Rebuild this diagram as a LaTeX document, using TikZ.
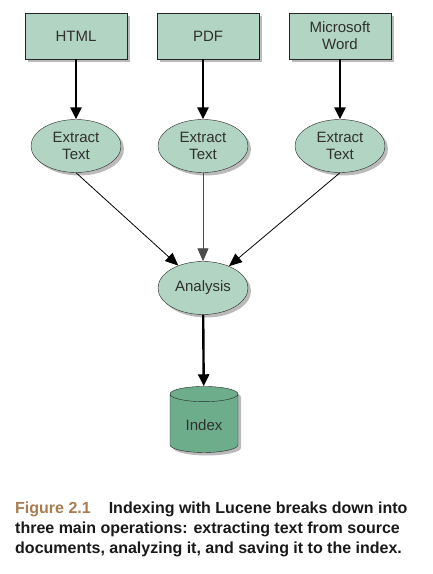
\documentclass[tikz,border=0pt]{standalone}
\usepackage{fontspec}
\setmainfont{Liberation Sans}
\usetikzlibrary{shapes.geometric,shadows,arrows.meta}
\definecolor{boxgreen}{HTML}{B2D4C2}
\definecolor{idxgreen}{HTML}{6DAD8C}
\definecolor{figbrown}{HTML}{A87C4F}
\definecolor{txtgray}{HTML}{303030}
\tikzset{
  shade/.style={drop shadow={shadow xshift=3pt,shadow yshift=-3pt,opacity=.45,fill=black!60}},
  doc/.style={rectangle,draw=black!85,thick,fill=boxgreen,minimum width=102pt,minimum height=46pt,
    align=center,text=txtgray,shade},
  step2/.style={ellipse,draw=black!85,fill=boxgreen,minimum width=90pt,minimum height=53pt,
    inner sep=0pt,align=center,text=txtgray,shade},
  store/.style={cylinder,shape border rotate=90,aspect=0.35,draw=black!85,fill=idxgreen,
    minimum width=68pt,minimum height=66pt,text=txtgray,shade},
  fat/.style={line width=2.4pt,-{Triangle[length=12pt,width=11pt]}},
  thin/.style={line width=0.8pt,-{Triangle[length=13pt,width=11pt]}}
}
\begin{document}
\begin{tikzpicture}[x=1pt,y=-1pt,font=\fontsize{15}{17}\selectfont]
  \useasboundingbox (0,0) rectangle (432,574);
  \draw
    (76,36) node[doc] (html){HTML}
    (208,36) node[doc] (pdf){PDF}
    (340,36) node[doc] (word){Microsoft\\Word}
    (76,146) node[step2] (ex1){Extract\\Text}
    (203,146) node[step2] (ex2){Extract\\Text}
    (340,146) node[step2] (ex3){Extract\\Text}
    (203,288) node[step2] (ana){Analysis}
    (204,425) node[store] (idx){Index};
  \begin{scope}[fat]
    \draw (76,59) to (ex1);
    \draw (ex2 |- pdf.south) to (ex2);
    \draw (word) to (ex3);
    \draw (ana) to (idx);
  \end{scope}
  \begin{scope}[thin]
    \draw (ex1.south) to (ana);
    \draw[black!70] (ex2) to (ana);
    \draw (ex3.south) to (ana);
  \end{scope}
  \node[anchor=north west,inner sep=0pt,align=left,text=black!90,
    font=\bfseries\fontsize{16}{19.7}\selectfont] (cap) at (15,502)
    {{\color{figbrown}Figure 2.1}\hspace{18pt}Indexing with Lucene breaks down into\\
     three main operations: extracting text from source\\
     documents, analyzing it, and saving it to the index.};
\end{tikzpicture}
\end{document}
